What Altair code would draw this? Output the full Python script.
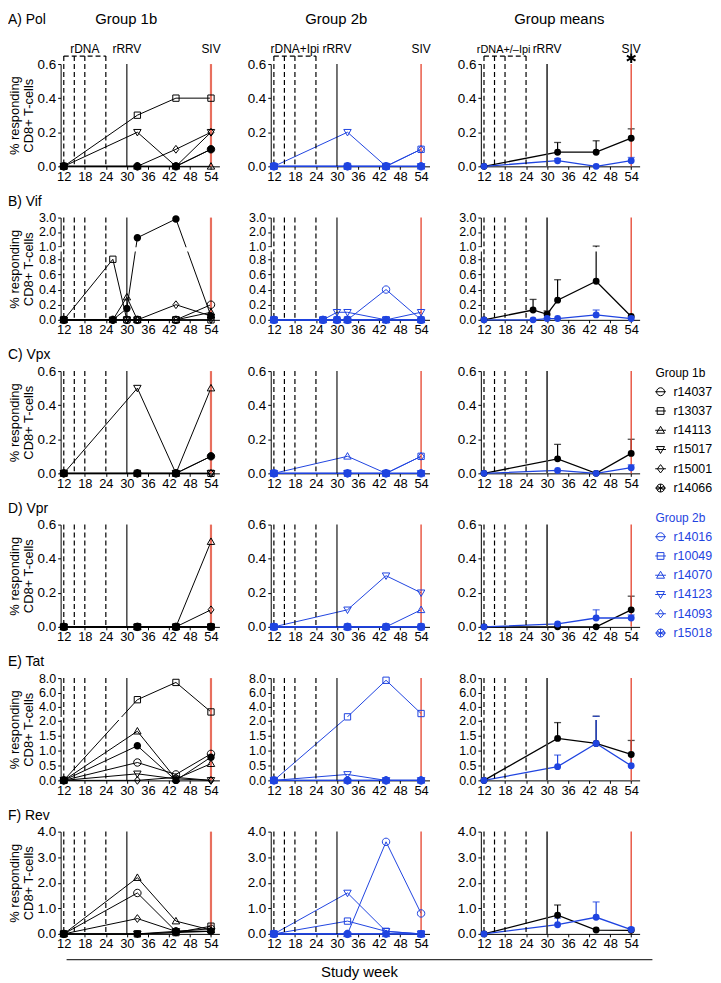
import altair as alt
import pandas as pd

# ---------------- data ----------------
weeks = [12, 33, 44, 54]
weeks_vif = [12, 26, 30, 33, 44, 54]
vaccine_weeks = [12, 15, 18, 24]
rrrv_weeks = [30]
siv_weeks = [54]
x_ticks = [12, 18, 24, 30, 36, 42, 48, 54]

group_1b = ["r14037", "r13037", "r14113", "r15017", "r15001", "r14066"]
group_2b = ["r14016", "r10049", "r14070", "r14123", "r14093", "r15018"]

# Pol
pol_1b = [[0, 0, 0, 0.1], [0, 0.3, 0.4, 0.4], [0, 0, 0, 0], [0, 0.2, 0, 0.2], [0, 0, 0.1, 0.2], [0, 0, 0, 0.1]]
pol_2b = [[0, 0, 0, 0], [0, 0, 0, 0.1], [0, 0, 0, 0], [0, 0.2, 0, 0], [0, 0, 0, 0.1], [0, 0, 0, 0]]
pol_mean_1b = [0, 0.083, 0.083, 0.165]
pol_err_1b = [None, 0.14, 0.15, 0.22]
pol_mean_2b = [0, 0.033, 0, 0.033]
pol_err_2b = [None, 0.045, None, 0.052]

# Vif
vif_1b = [[0, 0, 0, 0, 0, 0.2], [0, 0.8, 0, 0, 0, 0], [0, 0, 0.3, 0, 0, 0.1],
          [0, 0, 0, 0, 0, 0], [0, 0, 0, 0, 0.2, 0.05], [0, 0, 0.15, 1.6, 2.9, 0.05]]
vif_2b = [[0, 0, 0, 0, 0.4, 0], [0, 0, 0, 0, 0, 0], [0, 0, 0, 0, 0, 0],
          [0, 0, 0.1, 0.1, 0, 0.1], [0, 0, 0, 0, 0, 0], [0, 0, 0, 0, 0, 0]]
vif_mean_1b = [0, 0.13, 0.074, 0.26, 0.51, 0.045]
vif_err_1b = [None, 0.27, 0.117, 0.53, 1.02, None]
vif_mean_2b = [0, 0, 0.017, 0.017, 0.065, 0.017]
vif_err_2b = [None, None, None, None, 0.13, None]

# Vpx
vpx_1b = [[0, 0, 0, 0.1], [0, 0, 0, 0], [0, 0, 0, 0.5], [0, 0.5, 0, 0], [0, 0, 0, 0], [0, 0, 0, 0.1]]
vpx_2b = [[0, 0, 0, 0], [0, 0, 0, 0.1], [0, 0.1, 0, 0], [0, 0, 0, 0], [0, 0, 0, 0.1], [0, 0, 0, 0]]
vpx_mean_1b = [0, 0.085, 0, 0.117]
vpx_err_1b = [None, 0.17, None, 0.2]
vpx_mean_2b = [0, 0.017, 0, 0.033]
vpx_err_2b = [None, None, None, 0.05]

# Vpr
vpr_1b = [[0, 0, 0, 0], [0, 0, 0, 0], [0, 0, 0, 0.5], [0, 0, 0, 0], [0, 0, 0, 0.1], [0, 0, 0, 0]]
vpr_2b = [[0, 0, 0, 0], [0, 0, 0, 0], [0, 0, 0, 0.1], [0, 0.1, 0.3, 0.2], [0, 0, 0, 0], [0, 0, 0, 0]]
vpr_mean_1b = [0, 0, 0, 0.1]
vpr_err_1b = [None, None, None, 0.18]
vpr_mean_2b = [0, 0.017, 0.052, 0.052]
vpr_err_2b = [None, None, 0.1, 0.07]

# Tat
tat_1b = [[0, 0.6, 0.2, 0.89], [0, 5.0, 7.4, 3.3], [0, 1.65, 0.05, 0.56],
          [0, 0.22, 0.05, 0], [0, 0, 0.1, 0], [0, 1.16, 0, 0.78]]
tat_2b = [[0, 0, 0, 0], [0, 2.62, 7.7, 3.08], [0, 0, 0, 0], [0, 0.2, 0, 0], [0, 0, 0, 0], [0, 0, 0, 0]]
tat_mean_1b = [0, 1.41, 1.24, 0.87]
tat_err_1b = [None, 1.94, 2.7, 1.34]
tat_mean_2b = [0, 0.46, 1.24, 0.49]
tat_err_2b = [None, 0.85, 2.7, 0.9]

# Rev
rev_1b = [[0, 1.6, 0.1, 0.2], [0, 0, 0.05, 0.3], [0, 2.2, 0.5, 0.15],
          [0, 0, 0.1, 0.1], [0, 0.6, 0.1, 0.1], [0, 0, 0.05, 0.1]]
rev_2b = [[0, 0, 3.6, 0.8], [0, 0.5, 0.1, 0], [0, 0, 0, 0], [0, 1.6, 0.1, 0], [0, 0, 0, 0], [0, 0, 0, 0]]
rev_mean_1b = [0, 0.73, 0.15, 0.14]
rev_err_1b = [None, 1.13, None, None]
rev_mean_2b = [0, 0.36, 0.65, 0.17]
rev_err_2b = [None, 0.62, 1.25, 0.24]

column_titles = ["Group 1b", "Group 2b", "Group means"]
vaccine_labels = ["rDNA", "rDNA+Ipi", "rDNA+/\u2013Ipi"]
legend_titles = ["Group 1b", "Group 2b"]

# ---------------- styling ----------------
BLACK = "#000000"
BLUE = "#1f44e0"
PX_PER_WEEK = 156 / 44.2
W, H = 159.9, 103
XDOM = [11.1, 11.1 + W / PX_PER_WEEK]
FONT = "Liberation Sans"

SYM = {
    "circle": "M-1,0A1,1,0,1,1,1,0A1,1,0,1,1,-1,0Z",
    "square": "M-0.85,-0.85H0.85V0.85H-0.85Z",
    "up": "M0,-1L1,0.75H-1Z",
    "down": "M0,1L1,-0.75H-1Z",
    "diamond": "M0,-1.05L0.8,0L0,1.05L-0.8,0Z",
    "star": "M-1,0A1,1,0,1,1,1,0A1,1,0,1,1,-1,0Z M0,-1V1 M-0.87,-0.5L0.87,0.5 M-0.87,0.5L0.87,-0.5",
}
ASTERISK = "M0,-1V1M-0.87,-0.5L0.87,0.5M-0.87,0.5L0.87,-0.5"
sym_order = ["circle", "square", "up", "down", "diamond", "star"]
legend_paths = [SYM[k] + " M-1.35,0H1.35" for k in sym_order]


def tf_lin(v):
    return v


def tf_vif(v):
    if v <= 0.9:
        return v * 76.25
    if v >= 1.0:
        return 74 + (v - 1) * 14.5
    return 68.625 + (v - 0.9) * (74 - 68.625) / 0.1


def tf_tat(v):
    if v <= 2.0:
        return v * 30
    return max(60, 74 + (v - 4) * 7.25)


rows = [
    dict(tag="A) Pol", wk=weeks, ind=[pol_1b, pol_2b], m=[pol_mean_1b, pol_mean_2b], e=[pol_err_1b, pol_err_2b],
         kind="lin", ymax=0.6, yticks=[0, 0.2, 0.4, 0.6], tf=tf_lin, band=None),
    dict(tag="B) Vif", wk=weeks_vif, ind=[vif_1b, vif_2b], m=[vif_mean_1b, vif_mean_2b], e=[vif_err_1b, vif_err_2b],
         kind="brk", yticks=[0, 0.2, 0.4, 0.6, 0.8, 1.0, 2.0, 3.0], tf=tf_vif, band=[68.9, 73.2],
         expr="datum.value < 70 ? format(datum.value / 76.25, '.1f') : format(1 + (datum.value - 74) / 14.5, '.1f')"),
    dict(tag="C) Vpx", wk=weeks, ind=[vpx_1b, vpx_2b], m=[vpx_mean_1b, vpx_mean_2b], e=[vpx_err_1b, vpx_err_2b],
         kind="lin", ymax=0.6, yticks=[0, 0.2, 0.4, 0.6], tf=tf_lin, band=None),
    dict(tag="D) Vpr", wk=weeks, ind=[vpr_1b, vpr_2b], m=[vpr_mean_1b, vpr_mean_2b], e=[vpr_err_1b, vpr_err_2b],
         kind="lin", ymax=0.6, yticks=[0, 0.2, 0.4, 0.6], tf=tf_lin, band=None),
    dict(tag="E) Tat", wk=weeks, ind=[tat_1b, tat_2b], m=[tat_mean_1b, tat_mean_2b], e=[tat_err_1b, tat_err_2b],
         kind="brk", yticks=[0, 0.5, 1.0, 1.5, 2.0, 4.0, 6.0, 8.0], tf=tf_tat, band=[60.8, 63.8],
         expr="datum.value < 61 ? format(datum.value / 30, '.1f') : format(4 + (datum.value - 74) / 7.25, '.1f')"),
    dict(tag="F) Rev", wk=weeks, ind=[rev_1b, rev_2b], m=[rev_mean_1b, rev_mean_2b], e=[rev_err_1b, rev_err_2b],
         kind="lin", ymax=4.0, yticks=[0, 1.0, 2.0, 3.0, 4.0], tf=tf_lin, band=None),
]


def xenc():
    return alt.X("week:Q", scale=alt.Scale(domain=XDOM, nice=False, zero=False),
                 axis=alt.Axis(values=x_ticks, format="d", title=None, grid=False, labelFontSize=13,
                               tickSize=3, labelPadding=1, labelOverlap=False))


def yenc(field, r, col):
    if r["kind"] == "lin":
        scale = alt.Scale(domain=[0, r["ymax"]], nice=False)
        extra = dict(values=r["yticks"], format=".1f", labelFontSize=13.5)
    else:
        scale = alt.Scale(domain=[0, H], nice=False)
        extra = dict(values=[round(r["tf"](v), 3) for v in r["yticks"]], labelExpr=r["expr"], labelFontSize=12.5)
    if col == 0:
        extra.update(title=["% responding", "CD8+ T-cells"], titleFontSize=13, titleFontWeight="normal",
                     titleX=-39, titleY=H / 2, titleBaseline="bottom", titleAlign="center", titleAngle=270,
                     titleLineHeight=14)
    else:
        extra.update(title=None)
    return alt.Y(field, type="quantitative", scale=scale,
                 axis=alt.Axis(grid=False, tickSize=3, labelPadding=2, labelOverlap=False, **extra))


def legend_layers():
    recs = []
    for g, (names, c, base) in enumerate(((group_1b, BLACK, 20.8), (group_2b, BLUE, 166.8))):
        for i, (n, p) in enumerate(zip(names, legend_paths)):
            recs.append({"label": n, "path": p, "c": c, "yy": base + i * 19.4})
    dl = pd.DataFrame(recs)
    sym = alt.Chart(dl).mark_point(filled=False, size=64, strokeWidth=1, opacity=1).encode(
        x=alt.value(181), y=alt.Y("yy:Q", scale=None),
        shape=alt.Shape("path:N", scale=None, legend=None),
        color=alt.Color("c:N", scale=None, legend=None))
    lab = alt.Chart(dl).mark_text(fontSize=12.5, align="left", baseline="middle").encode(
        x=alt.value(194), y=alt.Y("yy:Q", scale=None), text="label:N",
        color=alt.Color("c:N", scale=None, legend=None))
    ttl = pd.DataFrame({"label": legend_titles, "c": [BLACK, BLUE], "yy": [2, 148]})
    tl = alt.Chart(ttl).mark_text(fontSize=12, align="left", baseline="middle").encode(
        x=alt.value(176), y=alt.Y("yy:Q", scale=None), text="label:N",
        color=alt.Color("c:N", scale=None, legend=None))
    return [sym, lab, tl]


def panel(r, col, ri):
    tf = r["tf"]
    layers = []
    top = -8 if ri == 0 else 0
    color = BLACK if col == 0 else BLUE
    if col < 2:
        animals = group_1b if col == 0 else group_2b
        recs = []
        for a, series in zip(animals, r["ind"][col]):
            for w, v in zip(r["wk"], series):
                recs.append({"week": w, "t": tf(v), "animal": a})
        df = pd.DataFrame(recs)
        layers.append(alt.Chart(df).mark_line(color=color, strokeWidth=1).encode(
            x=xenc(), y=yenc("t", r, col), detail="animal:N"))
    else:
        for m, e, c in zip(r["m"], r["e"], [BLACK, BLUE]):
            dfm = pd.DataFrame({"week": r["wk"], "t": [tf(v) for v in m]})
            layers.append(alt.Chart(dfm).mark_line(color=c, strokeWidth=1.3).encode(
                x=xenc(), y=yenc("t", r, col)))
            erec = [{"week": w, "t": tf(v), "thi": tf(h)} for w, v, h in zip(r["wk"], m, e) if h is not None]
            if erec:
                dfe = pd.DataFrame(erec)
                layers.append(alt.Chart(dfe).mark_rule(color=c, strokeWidth=1.2).encode(
                    x=xenc(), y=yenc("t", r, col), y2="thi:Q"))
                layers.append(alt.Chart(dfe).mark_tick(color=c, orient="horizontal", size=7, thickness=1.3).encode(
                    x=xenc(), y=yenc("thi", r, col)))
    if r["band"]:
        dfb = pd.DataFrame({"lo": [r["band"][0]], "hi": [r["band"][1]]})
        layers.append(alt.Chart(dfb).mark_rect(color="white", opacity=1).encode(
            x=alt.value(-4), x2=alt.value(W + 4), y=yenc("lo", r, col), y2="hi:Q"))
    # study timeline rules
    layers.append(alt.Chart(pd.DataFrame({"week": vaccine_weeks})).mark_rule(
        color="black", strokeDash=[5, 3], strokeWidth=1.2).encode(x=xenc(), y=alt.value(top), y2=alt.value(H)))
    layers.append(alt.Chart(pd.DataFrame({"week": rrrv_weeks})).mark_rule(
        color="#444444" if col == 2 else "black", strokeWidth=1.8 if col == 2 else 1.1).encode(
        x=xenc(), y=alt.value(0), y2=alt.value(H)))
    layers.append(alt.Chart(pd.DataFrame({"week": siv_weeks})).mark_rule(
        color="#e86f5e" if col == 0 else "#e5412c", strokeWidth=2.2 if col == 0 else 1.3).encode(
        x=xenc(), y=alt.value(0), y2=alt.value(H)))
    # markers
    if col < 2:
        for a, k in zip(animals, sym_order):
            dpa = df[df.animal == a]
            layers.append(alt.Chart(dpa).mark_point(shape=SYM[k], size=56, filled=(k == "star"), color=color,
                                                     strokeWidth=1, opacity=1).encode(
                x=xenc(), y=yenc("t", r, col)))
    else:
        for m, c in zip(r["m"], [BLACK, BLUE]):
            dfm = pd.DataFrame({"week": r["wk"], "t": [tf(v) for v in m]})
            layers.append(alt.Chart(dfm).mark_point(shape="circle", size=48, filled=True, color=c, opacity=1).encode(
                x=xenc(), y=yenc("t", r, col)))
    # annotations on first row
    if ri == 0:
        layers.append(alt.Chart(pd.DataFrame({"week": [vaccine_weeks[0]], "week_end": [vaccine_weeks[-1]]})).mark_rule(
            color="black", strokeDash=[5, 3], strokeWidth=1.2).encode(x=xenc(), x2="week_end:Q", y=alt.value(-8)))
        ann = pd.DataFrame({"week": [17.6 if col == 2 else 18, rrrv_weeks[0], siv_weeks[0]],
                            "label": [vaccine_labels[col], "rRRV", "SIV"],
                            "fs": [11 if col == 2 else 12, 12, 12]})
        layers.append(alt.Chart(ann).mark_text(baseline="alphabetic", color="black").encode(
            x=xenc(), y=alt.value(-11), text="label:N",
            size=alt.Size("fs:Q", scale=None, legend=None)))
        cx = 79 if col == 2 else 66
        layers.append(alt.Chart(pd.DataFrame({"label": [column_titles[col]]})).mark_text(
            fontSize=15, baseline="alphabetic", align="center", color="black").encode(
            x=alt.value(cx), y=alt.value(-40), text="label:N"))
        if col == 2:
            layers.append(alt.Chart(pd.DataFrame({"week": [54]})).mark_point(
                shape=ASTERISK, size=100, filled=False, color="black", strokeWidth=2, opacity=1).encode(
                x=xenc(), y=alt.value(-6)))
    if col == 0:
        layers.append(alt.Chart(pd.DataFrame({"label": [r["tag"]]})).mark_text(
            fontSize=14, align="left", baseline="alphabetic", color="black").encode(
            x=alt.value(-53), y=alt.value(-40 if ri == 0 else -12), text="label:N"))
        if ri == 0:
            # invisible anchor fixing the top-left corner of the drawing
            layers.append(alt.Chart(pd.DataFrame({"a": [0]})).mark_rect(opacity=0).encode(
                x=alt.value(-53), x2=alt.value(-52), y=alt.value(-53), y2=alt.value(-52)))
    if ri == 5 and col == 0:
        layers.append(alt.Chart(pd.DataFrame({"a": [0]})).mark_rule(color="black", strokeWidth=1).encode(
            x=alt.value(6), x2=alt.value(596), y=alt.value(129)))
        layers.append(alt.Chart(pd.DataFrame({"label": ["Study week"]})).mark_text(
            fontSize=15, align="center", baseline="middle", color="black").encode(
            x=alt.value(301), y=alt.value(141), text="label:N"))
    if ri == 2 and col == 2:
        layers.extend(legend_layers())
    return alt.layer(*layers).properties(width=W, height=H)


panels = []
for ri, r in enumerate(rows):
    for c in range(3):
        panels.append(panel(r, c, ri))

chart = alt.concat(*panels, columns=3, spacing=51.6, bounds="flush").properties(padding=0).configure(
    font=FONT).configure_view(stroke=None).configure_axis(
    domainColor="black", tickColor="black", labelColor="black", titleColor="black",
    labelFont=FONT, titleFont=FONT)

chart.save("out.html", embed_options={"renderer": "svg", "actions": False})
